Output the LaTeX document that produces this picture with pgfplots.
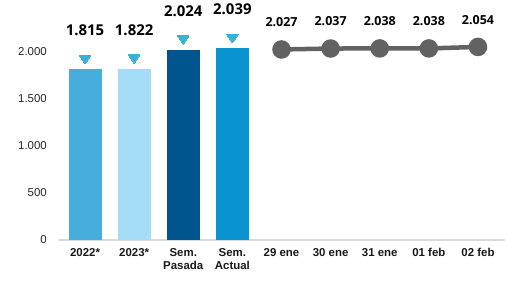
\documentclass[border=0pt]{standalone}
\usepackage{pgfplots}
\pgfplotsset{compat=1.18}
\usepackage{fontspec}
\setmainfont{Liberation Sans}
\newfontfamily\valfont{Open Sans}
\definecolor{cA}{HTML}{47ADDD}
\definecolor{cB}{HTML}{A6DDF6}
\definecolor{cC}{HTML}{00558C}
\definecolor{cD}{HTML}{0B93D1}
\definecolor{tri}{HTML}{38B1DA}
\definecolor{ln}{HTML}{626262}
\begin{document}
\begin{tikzpicture}
\path[use as bounding box] (-59bp,-42bp) rectangle (453bp,240bp);
\begin{axis}[
  at={(0,0)}, anchor=south west,
  scale only axis, width=446bp, height=235bp,
  xmin=-0.53, xmax=8.55, ymin=0, ymax=2500,
  axis x line*=bottom, axis y line*=left,
  x axis line style={draw=black!15, line width=1.3bp, -},
  y axis line style={draw=none},
  major tick length=0pt,
  ytick={0,500,1000,1500,2000},
  yticklabels={0,500,1.000,1.500,2.000},
  yticklabel style={font=\fontsize{11.5}{13}\selectfont, inner sep=0pt, xshift=-12bp, text=black!85},
  xtick={0,1,2,3,4,5,6,7,8},
  xticklabels={2022*,2023*,Sem.\\Pasada,Sem.\\Actual,29 ene,30 ene,31 ene,01 feb,02 feb},
  xticklabel style={font=\bfseries\fontsize{11.5}{13.5}\selectfont, align=center, inner sep=0pt, anchor=north, yshift=-8bp, text=black!90},
  /pgf/number format/assume math mode=true,
  clip=false,
]
\addplot[ybar, bar width=33bp, bar shift=0pt, fill=cA, draw=none] coordinates {(0,1815)};
\addplot[ybar, bar width=33bp, bar shift=0pt, fill=cB, draw=none] coordinates {(1,1822)};
\addplot[ybar, bar width=33bp, bar shift=0pt, fill=cC, draw=none] coordinates {(2,2024)};
\addplot[ybar, bar width=33bp, bar shift=0pt, fill=cD, draw=none] coordinates {(3,2039)};
\addplot[only marks, color=tri, mark=triangle*, mark size=6.5bp,
  mark options={rotate=180, yshift=-11bp, fill=tri, draw=tri, line width=0pt, yscale=0.85},
  point meta=explicit symbolic,
  nodes near coords,
  nodes near coords style={font=\valfont\bfseries\fontsize{15}{15}\selectfont, anchor=center, inner sep=0pt, yshift=28bp, text=black}]
  coordinates {(0,1815)[1.815] (1,1822)[1.822] (2,2024)[2.024] (3,2039)[2.039]};
\addplot[color=ln, line width=4.5bp, mark=*, mark size=7bp, mark options={fill=ln, draw=none},
  point meta=explicit symbolic,
  nodes near coords,
  nodes near coords style={font=\valfont\bfseries\fontsize{12.5}{12.5}\selectfont, anchor=center, inner sep=0pt, yshift=27bp, text=black}]
  coordinates {(4,2027)[2.027] (5,2037)[2.037] (6,2038)[2.038] (7,2038)[2.038] (8,2054)[2.054]};
\end{axis}
\end{tikzpicture}
\end{document}
